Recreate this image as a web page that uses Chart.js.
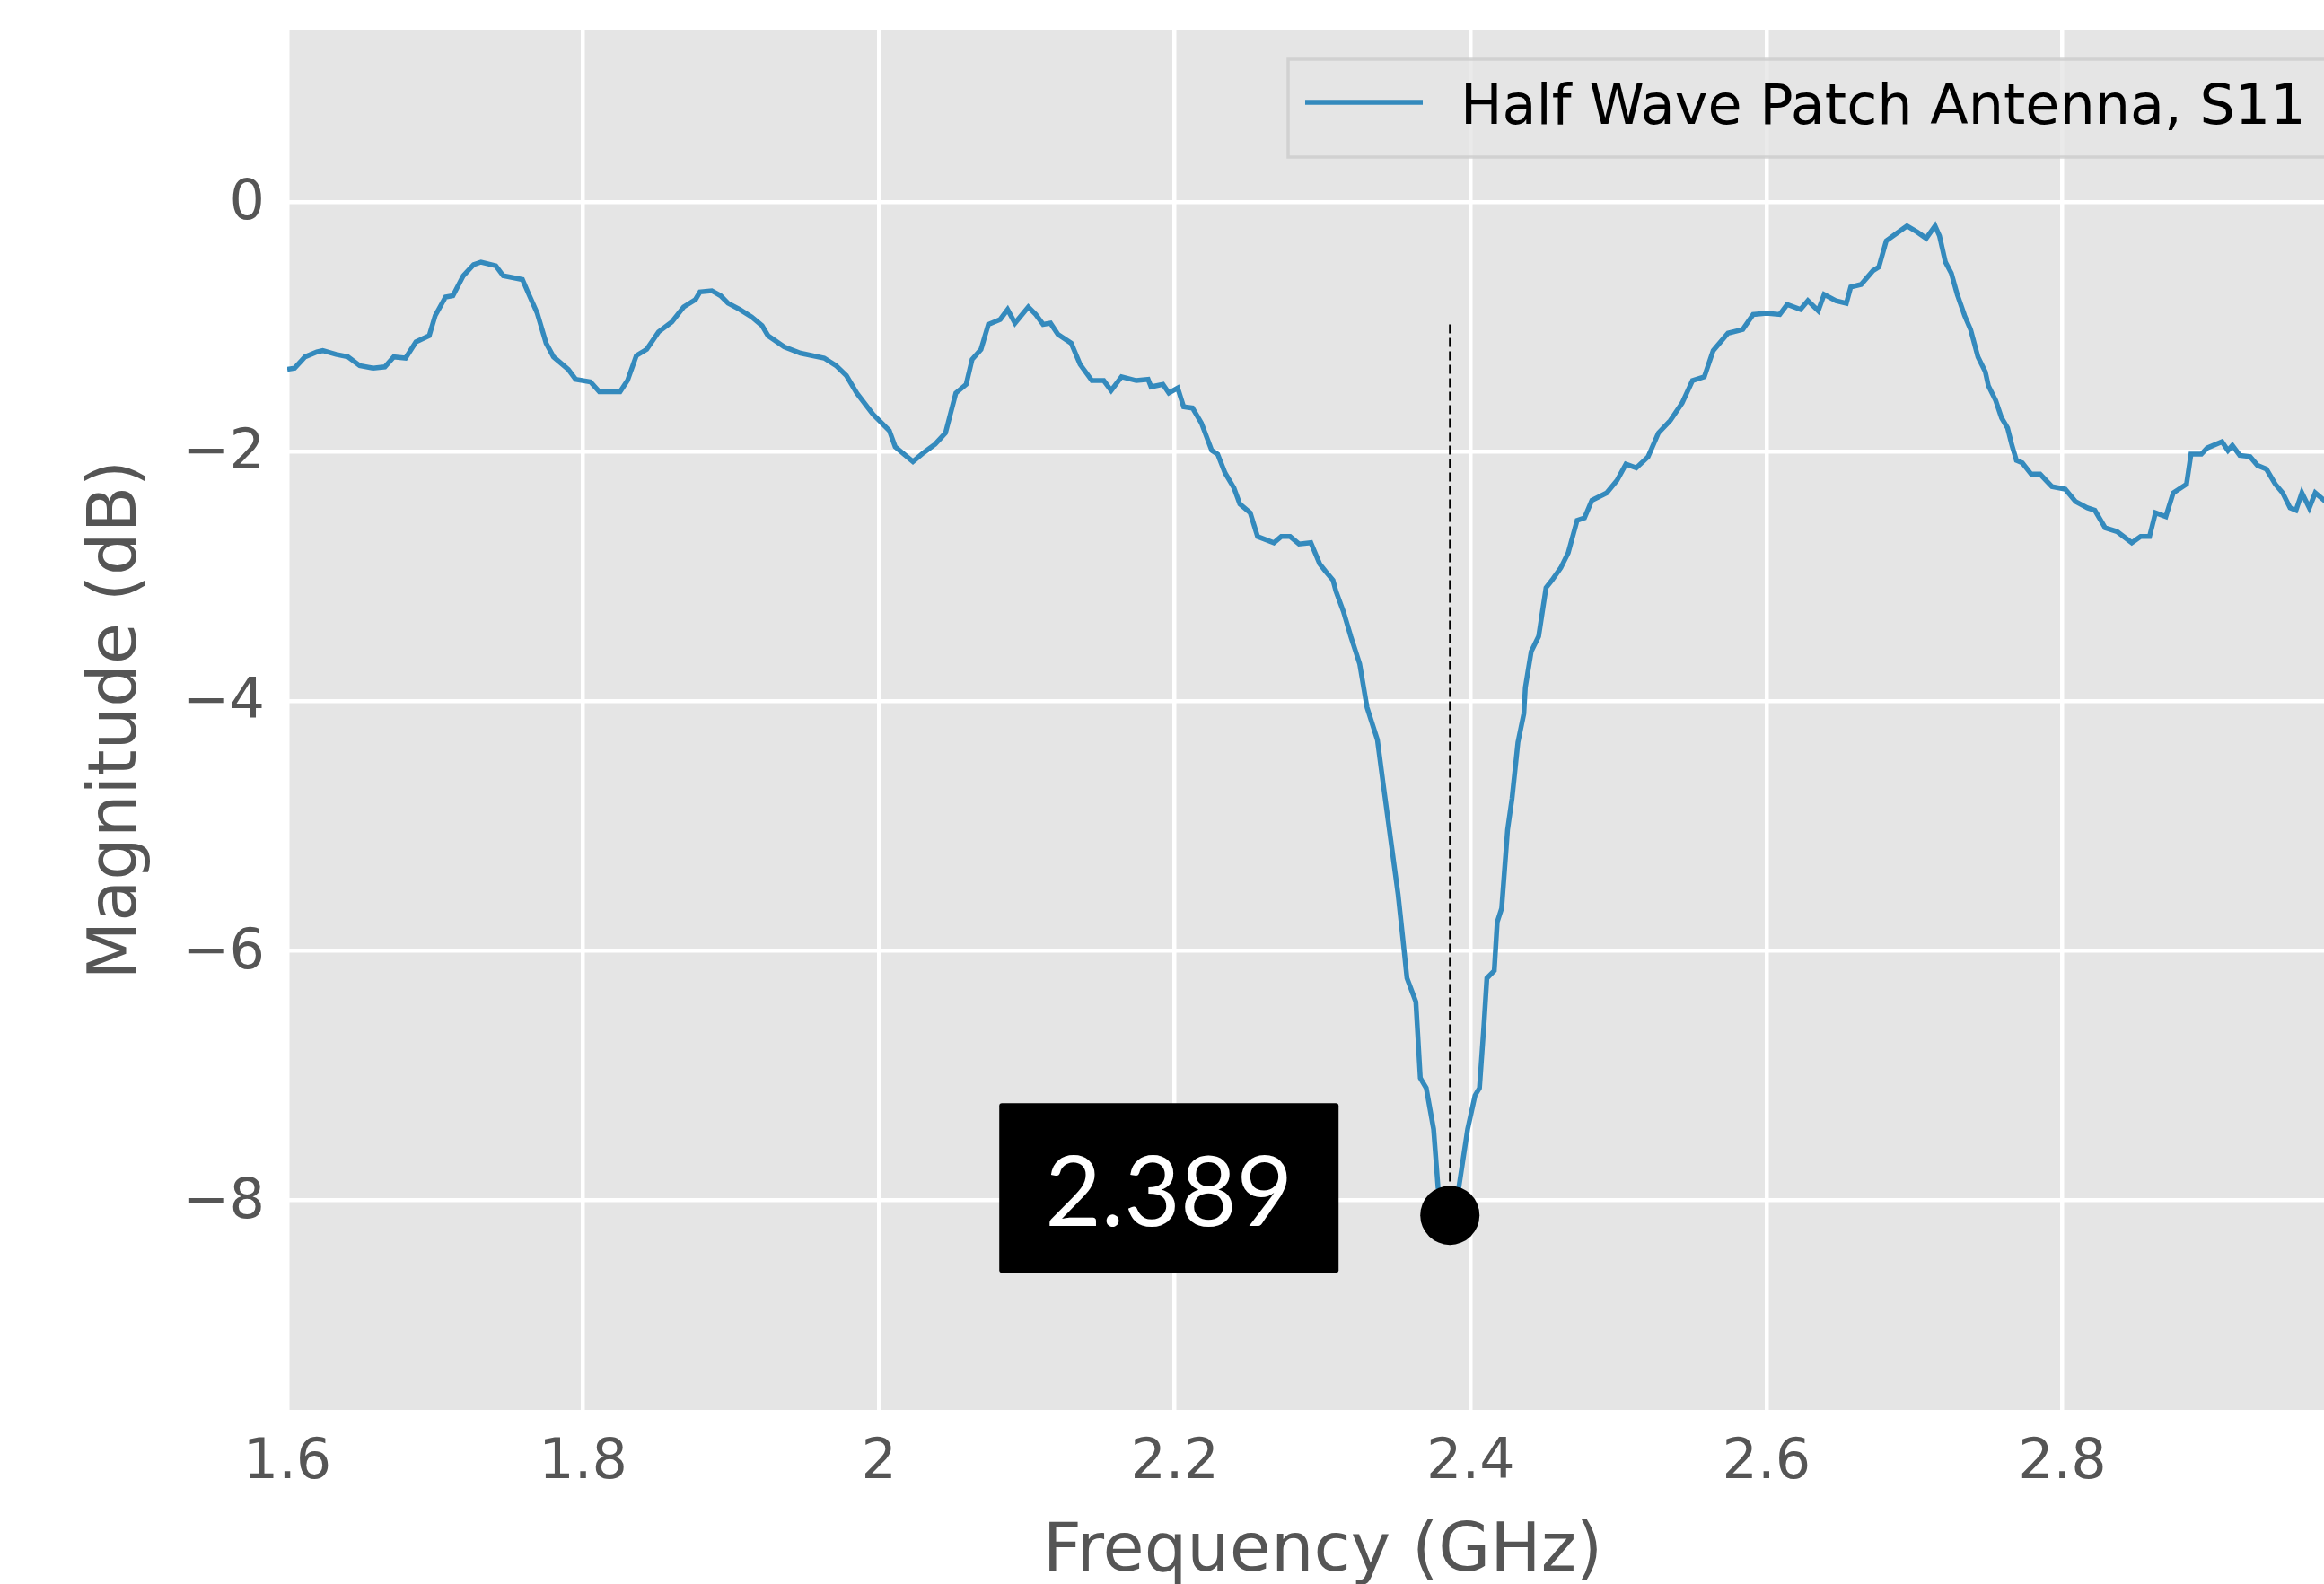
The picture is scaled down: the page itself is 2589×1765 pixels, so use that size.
<!DOCTYPE html>
<html>
<head>
<meta charset="utf-8">
<script src="https://cdn.jsdelivr.net/npm/chart.js@4.4.1/dist/chart.umd.min.js"></script>
<style>
  html, body { margin: 0; padding: 0; background: #fff; overflow: hidden; }
  #wrap { width: 2589px; height: 1765px; overflow: hidden; position: relative; }
  #chart { position: absolute; left: 0; top: 0; width: 2660px; height: 1800px; }
</style>
</head>
<body>
<div id="wrap"><canvas id="chart" width="2660" height="1800"></canvas></div>
<script>
// frequency in GHz, magnitude in dB
const freqs = [
  1.600, 1.605, 1.612, 1.620, 1.624, 1.633, 1.641, 1.649, 1.658, 1.666,
  1.672, 1.680, 1.687, 1.696, 1.700, 1.707, 1.712, 1.719, 1.726, 1.731,
  1.741, 1.746, 1.759, 1.763, 1.769, 1.775, 1.780, 1.790, 1.795, 1.805,
  1.811, 1.825, 1.830, 1.836, 1.843, 1.851, 1.860, 1.868, 1.876, 1.879,
  1.887, 1.893, 1.898, 1.906, 1.914, 1.921, 1.925, 1.936, 1.947, 1.963,
  1.971, 1.978, 1.985, 1.996, 2.007, 2.011, 2.023, 2.030, 2.038, 2.045,
  2.052, 2.059, 2.063, 2.069, 2.074, 2.082, 2.087, 2.092, 2.101, 2.106,
  2.111, 2.116, 2.121, 2.130, 2.136, 2.144, 2.152, 2.157, 2.164, 2.174,
  2.182, 2.184, 2.192, 2.196, 2.202, 2.206, 2.212, 2.218, 2.225, 2.229,
  2.234, 2.240, 2.244, 2.251, 2.256, 2.267, 2.272, 2.278, 2.284, 2.292,
  2.298, 2.302, 2.307, 2.309, 2.314, 2.319, 2.325, 2.330, 2.337, 2.341,
  2.346, 2.351, 2.354, 2.357, 2.363, 2.366, 2.370, 2.375, 2.378, 2.386,
  2.392, 2.398, 2.403, 2.406, 2.409, 2.411, 2.416, 2.418, 2.421, 2.425,
  2.428, 2.432, 2.436, 2.437, 2.441, 2.446, 2.451, 2.455, 2.461, 2.466,
  2.472, 2.477, 2.482, 2.492, 2.499, 2.505, 2.512, 2.520, 2.527, 2.535,
  2.543, 2.550, 2.558, 2.564, 2.574, 2.584, 2.591, 2.600, 2.609, 2.614,
  2.623, 2.628, 2.635, 2.639, 2.647, 2.654, 2.657, 2.664, 2.672, 2.676,
  2.681, 2.688, 2.695, 2.702, 2.708, 2.714, 2.717, 2.721, 2.725, 2.729,
  2.734, 2.738, 2.743, 2.748, 2.750, 2.755, 2.759, 2.763, 2.766, 2.769,
  2.773, 2.779, 2.785, 2.793, 2.802, 2.809, 2.817, 2.822, 2.829, 2.837,
  2.847, 2.853, 2.859, 2.863, 2.870, 2.875, 2.884, 2.887, 2.894, 2.898,
  2.908, 2.912, 2.915, 2.920, 2.927, 2.932, 2.938, 2.944, 2.949, 2.954,
  2.958, 2.962, 2.967, 2.971, 2.978
];
const s11 = [
  -1.34, -1.33, -1.24, -1.20, -1.19, -1.22, -1.24, -1.31, -1.33, -1.32,
  -1.24, -1.25, -1.12, -1.07, -0.91, -0.76, -0.75, -0.59, -0.50, -0.48,
  -0.51, -0.59, -0.62, -0.73, -0.89, -1.13, -1.24, -1.34, -1.42, -1.44,
  -1.52, -1.52, -1.43, -1.23, -1.18, -1.04, -0.96, -0.84, -0.78, -0.72,
  -0.71, -0.75, -0.81, -0.86, -0.92, -0.99, -1.07, -1.16, -1.21, -1.25,
  -1.31, -1.39, -1.53, -1.70, -1.83, -1.96, -2.08, -2.01, -1.94, -1.85,
  -1.53, -1.46, -1.26, -1.18, -0.98, -0.94, -0.86, -0.97, -0.84, -0.90,
  -0.98, -0.97, -1.06, -1.13, -1.30, -1.43, -1.43, -1.51, -1.40, -1.43,
  -1.42, -1.48, -1.46, -1.53, -1.49, -1.64, -1.65, -1.77, -1.99, -2.02,
  -2.17, -2.29, -2.42, -2.49, -2.68, -2.73, -2.68, -2.68, -2.74, -2.73,
  -2.90, -2.96, -3.03, -3.12, -3.28, -3.48, -3.70, -4.05, -4.31, -4.67,
  -5.11, -5.55, -5.88, -6.22, -6.41, -7.02, -7.10, -7.43, -7.90, -8.10,
  -7.90, -7.43, -7.16, -7.10, -6.60, -6.22, -6.16, -5.77, -5.66, -5.03,
  -4.78, -4.33, -4.10, -3.89, -3.60, -3.48, -3.09, -3.03, -2.93, -2.81,
  -2.55, -2.53, -2.39, -2.33, -2.23, -2.10, -2.13, -2.04, -1.85, -1.75,
  -1.61, -1.43, -1.40, -1.19, -1.05, -1.02, -0.90, -0.89, -0.90, -0.82,
  -0.86, -0.79, -0.87, -0.74, -0.79, -0.81, -0.68, -0.66, -0.55, -0.52,
  -0.31, -0.25, -0.19, -0.24, -0.29, -0.19, -0.27, -0.48, -0.57, -0.74,
  -0.91, -1.02, -1.24, -1.36, -1.47, -1.59, -1.73, -1.81, -1.95, -2.07,
  -2.09, -2.18, -2.18, -2.28, -2.30, -2.40, -2.45, -2.47, -2.61, -2.64,
  -2.73, -2.68, -2.68, -2.49, -2.52, -2.33, -2.26, -2.02, -2.02, -1.97,
  -1.92, -1.99, -1.95, -2.03, -2.04, -2.11, -2.14, -2.26, -2.33, -2.45,
  -2.47, -2.33, -2.45, -2.33, -2.40
];
const xTicks = [1.6, 1.8, 2.0, 2.2, 2.4, 2.6, 2.8, 3.0];
const yTicks = [-8, -6, -4, -2, 0];
const seriesLabel = "Half Wave Patch Antenna, S11";
const markerFreq = 2.386;
const markerTop = -0.98;
const markerMin = -8.12;
const markerLabel = "2.389";

const fmt = v => String(+Number(v).toFixed(1)).replace("-", "\u2212");

const plotBg = {
  id: "plotBg",
  beforeDraw(chart) {
    const { ctx, chartArea: a } = chart;
    ctx.save();
    ctx.fillStyle = "#e5e5e5";
    ctx.fillRect(a.left, a.top, a.right - a.left, a.bottom - a.top);
    ctx.restore();
  }
};

// legend sits inside the axes, top right, like matplotlib's "best"
const insideLegend = {
  id: "insideLegend",
  afterDraw(chart) {
    const { ctx, chartArea: a } = chart;
    const x0 = a.left + 1115, y0 = a.top + 33;
    const x1 = a.right - 31, y1 = a.top + 142;
    ctx.save();
    ctx.fillStyle = "rgba(229,229,229,0.8)";
    ctx.fillRect(x0, y0, x1 - x0, y1 - y0);
    ctx.strokeStyle = "rgba(204,204,204,0.8)";
    ctx.lineWidth = 3.5;
    ctx.strokeRect(x0, y0, x1 - x0, y1 - y0);
    ctx.strokeStyle = "#348abd";
    ctx.lineWidth = 5.5;
    ctx.beginPath();
    ctx.moveTo(x0 + 19, y0 + 48);
    ctx.lineTo(x0 + 150, y0 + 48);
    ctx.stroke();
    ctx.fillStyle = "#000";
    ctx.font = "62px 'DejaVu Sans'";
    ctx.textBaseline = "alphabetic";
    ctx.textAlign = "left";
    ctx.fillText(seriesLabel, x0 + 192, y0 + 72);
    ctx.restore();
  }
};

// black tag with the resonance frequency, left of the minimum marker
const markerTag = {
  id: "markerTag",
  afterDraw(chart) {
    const { ctx, scales } = chart;
    const px = scales.x.getPixelForValue(markerFreq);
    const py = scales.y.getPixelForValue(markerMin);
    const w = 378, h = 189;
    const left = px - 124 - w, top = py - 125;
    ctx.save();
    ctx.fillStyle = "#000";
    ctx.beginPath();
    ctx.roundRect(left, top, w, h, 3);
    ctx.fill();
    ctx.fillStyle = "#fff";
    ctx.font = "108px Lato";
    ctx.textAlign = "center";
    ctx.textBaseline = "alphabetic";
    ctx.fillText(markerLabel, left + w / 2, top + 137);
    ctx.restore();
  }
};

const tickFont = { family: "DejaVu Sans", size: 62 };
const titleFont = { family: "DejaVu Sans", size: 75 };

new Chart(document.getElementById("chart"), {
  type: "line",
  data: {
    datasets: [
      {
        label: "marker",
        data: [{ x: markerFreq, y: markerMin }],
        showLine: false,
        pointRadius: 33,
        pointBackgroundColor: "#000",
        pointBorderWidth: 0,
        order: 0
      },
      {
        label: "markerLine",
        data: [{ x: markerFreq, y: markerTop }, { x: markerFreq, y: markerMin }],
        borderColor: "#000",
        borderWidth: 2,
        borderDash: [10, 5],
        pointRadius: 0,
        order: 1
      },
      {
        label: seriesLabel,
        data: freqs.map((f, i) => ({ x: f, y: s11[i] })),
        borderColor: "#348abd",
        borderWidth: 5.5,
        pointRadius: 0,
        tension: 0,
        order: 2
      }
    ]
  },
  options: {
    responsive: false,
    animation: false,
    devicePixelRatio: 1,
    events: [],
    layout: { padding: { top: 30, right: 24, bottom: 0, left: 0 } },
    plugins: {
      legend: { display: false },
      tooltip: { enabled: false }
    },
    scales: {
      x: {
        type: "linear",
        min: 1.6,
        max: 3.0,
        afterBuildTicks: s => { s.ticks = xTicks.map(v => ({ value: v })); },
        afterFit: s => { s.height = 229; s.paddingLeft = 0; s.paddingRight = 0; },
        grid: { color: "#fff", lineWidth: 4.5, drawTicks: false },
        border: { display: false },
        ticks: {
          color: "#555", font: tickFont, padding: 23,
          maxRotation: 0, autoSkip: false, callback: v => fmt(v)
        },
        title: {
          display: true, text: "Frequency (GHz)", color: "#555",
          font: titleFont, padding: { top: 0, bottom: 24 }
        }
      },
      y: {
        type: "linear",
        min: -9.68,
        max: 1.383,
        afterBuildTicks: s => { s.ticks = yTicks.map(v => ({ value: v })); },
        afterFit: s => { s.width = 320; s.paddingTop = 0; s.paddingBottom = 0; },
        grid: { color: "#fff", lineWidth: 4.5, drawTicks: false },
        border: { display: false },
        ticks: {
          color: "#555", font: tickFont, padding: 25, labelOffset: 3,
          autoSkip: false, callback: v => fmt(v)
        },
        title: {
          display: true, text: "Magnitude (dB)", color: "#555",
          font: titleFont, padding: { top: 87, bottom: 0 }
        }
      }
    }
  },
  plugins: [plotBg, insideLegend, markerTag]
});
</script>
</body>
</html>
